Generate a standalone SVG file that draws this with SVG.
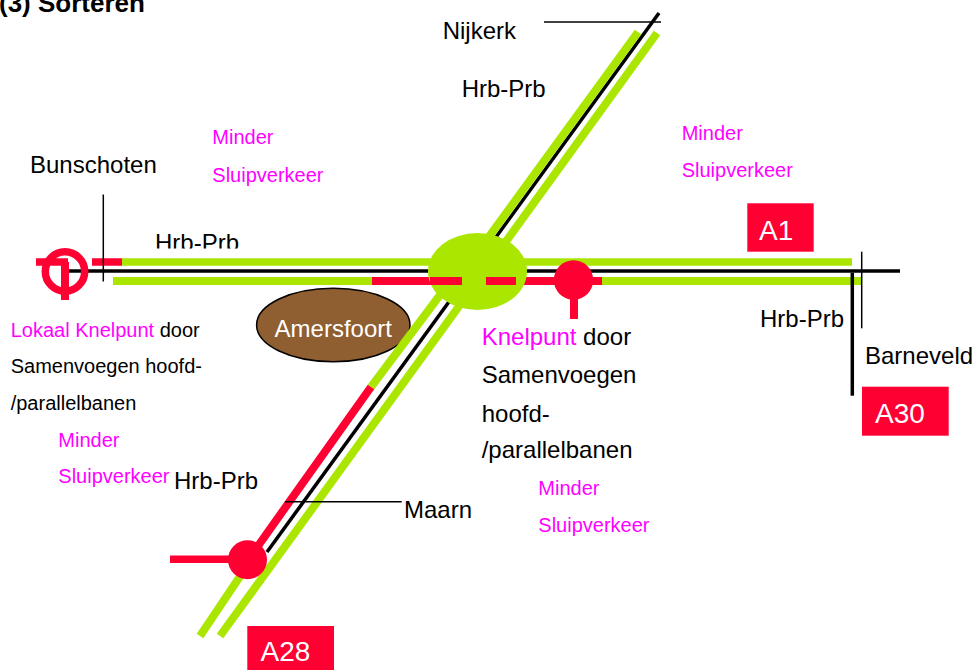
<svg xmlns="http://www.w3.org/2000/svg" width="974" height="670" viewBox="0 0 974 670">
<style>
text{font-family:"Liberation Sans",Arial,Helvetica,sans-serif;}
.lbl{font-size:24px;fill:#000;}
.mg{font-size:20px;fill:#FF00FF;}
.sm{font-size:20px;fill:#000;}
.box{fill:#FF0033;}
.boxt{font-size:28px;fill:#fff;}
.g{stroke:#AAE600;stroke-width:8;fill:none;}
.r{stroke:#FF0033;stroke-width:8;fill:none;}
.k{stroke:#000;stroke-width:3.5;fill:none;}
.thin{stroke:#000;stroke-width:1.5;fill:none;}
</style>
<defs>
<clipPath id="cut"><rect x="0" y="0" width="974" height="248.5"/></clipPath>
</defs>
<rect width="974" height="670" fill="#fff"/>

<text x="-1" y="12" style="font-size:26px;font-weight:bold">(3) Sorteren</text>

<g id="amersfoort">
<ellipse cx="333.3" cy="325" rx="76.7" ry="36.7" fill="#8F5E31" stroke="#000" stroke-width="1.5"/>
<text x="333.3" y="337.3" text-anchor="middle" style="font-size:24px;fill:#fff">Amersfoort</text>
</g>

<g id="connectors">
<!-- horizontal A1 road -->
<line class="k" x1="66" y1="271" x2="900" y2="271"/>
<line class="r" x1="92" y1="262" x2="122" y2="262" style="stroke-width:7.5"/>
<line class="g" x1="122" y1="262" x2="852" y2="262" style="stroke-width:7.5"/>
<line class="g" x1="113" y1="281" x2="372" y2="281"/>
<line class="g" x1="602" y1="281" x2="862" y2="281"/>
<line class="r" x1="372" y1="281" x2="602" y2="281"/>
<!-- diagonal A28 road -->
<line class="k" x1="659" y1="13" x2="267" y2="552" style="stroke-width:3.5"/>
<line class="g" x1="657" y1="33" x2="220" y2="636"/>
<line class="g" x1="638" y1="32" x2="472" y2="260"/>
<line class="g" x1="455" y1="275" x2="371" y2="387"/>
<line class="r" x1="371" y1="387" x2="248" y2="560"/>
<line class="g" x1="251" y1="560" x2="200" y2="636"/>
<!-- pointer lines -->
<line class="thin" x1="544" y1="22" x2="661" y2="22"/>
<line class="thin" x1="285" y1="501.7" x2="401.7" y2="501.7"/>
<line class="thin" x1="103.3" y1="194.5" x2="103.3" y2="281.5"/>
<line class="thin" x1="861.7" y1="251.7" x2="861.7" y2="328.3"/>
<line class="k" x1="852.3" y1="272.7" x2="852.3" y2="395.7"/>
</g>

<g id="junction-center">
<ellipse cx="477.5" cy="271.5" rx="49.5" ry="38.5" fill="#AAE600"/>
<line class="r" x1="430" y1="281" x2="462" y2="281"/>
<line class="r" x1="486" y1="281" x2="516" y2="281"/>
</g>

<g id="knelpunt-east">
<line class="r" x1="574" y1="280" x2="574" y2="319"/>
<circle cx="573.5" cy="280" r="19.7" fill="#FF0033"/>
</g>

<g id="knelpunt-south">
<line class="r" x1="170" y1="559.3" x2="248" y2="559.3" style="stroke-width:7.5"/>
<circle cx="247.5" cy="559.7" r="19.5" fill="#FF0033"/>
</g>

<g id="knelpunt-west">
<circle cx="65" cy="271.5" r="19.7" fill="none" stroke="#FF0033" stroke-width="7.5"/>
<line class="r" x1="36" y1="262" x2="68" y2="262" style="stroke-width:7.5"/>
<line class="r" x1="65" y1="262" x2="65" y2="300"/>
</g>

<g id="label-A1">
<rect class="box" x="747.3" y="203.3" width="66.4" height="48.4"/>
<text class="boxt" x="759" y="239.5">A1</text>
</g>
<g id="label-A30">
<rect class="box" x="862" y="386.7" width="86.7" height="49"/>
<text class="boxt" x="875" y="422.5">A30</text>
</g>
<g id="label-A28">
<rect class="box" x="247.3" y="626" width="86.7" height="44"/>
<text class="boxt" x="260.5" y="661">A28</text>
</g>

<g id="texts">
<text class="lbl" x="442.7" y="39">Nijkerk</text>
<text class="lbl" x="461.7" y="96.7">Hrb-Prb</text>
<text class="lbl" x="30" y="173.3">Bunschoten</text>
<text class="lbl" x="155" y="250.5" clip-path="url(#cut)">Hrb-Prb</text>
<text class="lbl" x="760" y="326.7">Hrb-Prb</text>
<text class="lbl" x="865" y="364">Barneveld</text>
<text class="lbl" x="404" y="518.3">Maarn</text>
<text class="lbl" x="174" y="488.5">Hrb-Prb</text>

<text class="mg" x="212.3" y="144">Minder</text>
<text class="mg" x="212.3" y="182">Sluipverkeer</text>
<text class="mg" x="681.7" y="140">Minder</text>
<text class="mg" x="681.7" y="177">Sluipverkeer</text>
<text class="mg" x="58.3" y="446.7">Minder</text>
<text class="mg" x="58.3" y="483.3">Sluipverkeer</text>
<text class="mg" x="538.3" y="495">Minder</text>
<text class="mg" x="538.3" y="531.7">Sluipverkeer</text>

<text class="sm" x="10.7" y="336.7"><tspan fill="#FF00FF">Lokaal Knelpunt</tspan> door</text>
<text class="sm" x="10.7" y="373.3">Samenvoegen hoofd-</text>
<text class="sm" x="10.7" y="410">/parallelbanen</text>

<text class="lbl" x="481.7" y="345"><tspan fill="#FF00FF">Knelpunt</tspan> door</text>
<text class="lbl" x="481.7" y="383.3">Samenvoegen</text>
<text class="lbl" x="481.7" y="421.7">hoofd-</text>
<text class="lbl" x="481.7" y="458.3">/parallelbanen</text>
</g>
</svg>
